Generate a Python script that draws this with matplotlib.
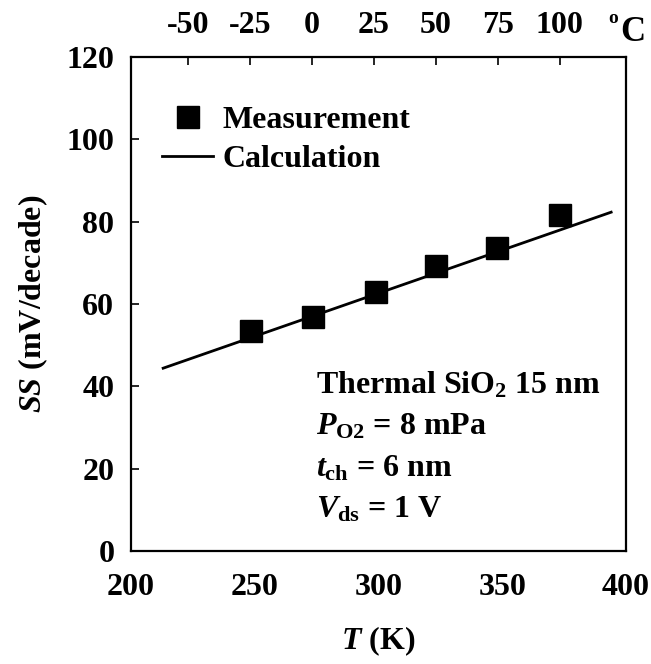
import numpy as np
import matplotlib
matplotlib.use("Agg")
import matplotlib.pyplot as plt

plt.rcParams['font.family'] = ['Liberation Serif', 'DejaVu Serif']
plt.rcParams['font.weight'] = 'bold'
plt.rcParams['mathtext.fontset'] = 'custom'
plt.rcParams['mathtext.rm'] = 'Liberation Serif:bold'
plt.rcParams['mathtext.bf'] = 'Liberation Serif:bold'
plt.rcParams['mathtext.it'] = 'Liberation Serif:bold:italic'

# measured subthreshold swing vs temperature
meas_T = [248.5, 273.7, 298.9, 323.4, 348.0, 373.3]
meas_SS = [53.4, 56.9, 62.9, 69.2, 73.6, 81.5]

# calculated line (end points)
calc_T = [213, 394]
calc_SS = [44.4, 82.3]

top_ticks_C = [-50, -25, 0, 25, 50, 75, 100]
y_ticks = [20, 40, 60, 80, 100]
x_ticks = [200, 250, 300, 350, 400]

fs = 23

fig = plt.figure(figsize=(6.51, 6.64), dpi=100)
ax = fig.add_axes([0.2012, 0.1702, 0.7604, 0.7440])

ax.plot(calc_T, calc_SS, color='black', lw=2.0, label='Calculation', zorder=2)
ax.plot(meas_T, meas_SS, 's', color='black', ms=16, label='Measurement', zorder=3)

ax.set_xlim(200, 400)
ax.set_ylim(0, 120)

ax.set_xticks(x_ticks)
ax.set_yticks(y_ticks)
ax.tick_params(axis='x', length=0, pad=16, labelsize=fs)
ax.tick_params(axis='y', direction='in', length=6, width=1.2, pad=12, labelsize=fs)
# 0 and 120 shown as labels only (no tick)
ax.set_yticks([0, 120], minor=True)
ax.set_yticklabels(['0', '120'], minor=True)
ax.tick_params(axis='y', which='minor', length=0, pad=12, labelsize=fs)

for s in ax.spines.values():
    s.set_linewidth(1.6)

top = ax.secondary_xaxis('top', functions=(lambda k: k - 273.15, lambda c: c + 273.15))
top.set_xticks(top_ticks_C)
top.set_xticklabels([str(c) for c in top_ticks_C])
top.tick_params(direction='in', length=6, width=1.2, pad=12, labelsize=fs)
top.spines['top'].set_visible(False)
fig.text(0.935, 0.985, 'o', fontsize=14, fontweight='bold', va='top', ha='left')
fig.text(0.953, 0.976, 'C', fontsize=fs + 2, fontweight='bold', va='top', ha='left')

ax.set_xlabel('$T$ (K)', fontsize=fs, fontweight='bold', labelpad=16)
ax.set_ylabel('$SS$ (mV/decade)', fontsize=fs, fontweight='bold', labelpad=12)

handles, labels = ax.get_legend_handles_labels()
ax.legend(handles[::-1], labels[::-1], loc='upper left', bbox_to_anchor=(0.024, 0.94),
          frameon=False, fontsize=fs, handlelength=1.6, handletextpad=0.3,
          labelspacing=0.3, borderaxespad=0.2)

info = ['Thermal SiO$_{\\mathrm{2}}$ 15 nm',
        '$P_{\\mathrm{O2}}$ = 8 mPa',
        '$t_{\\mathrm{ch}}$ = 6 nm',
        '$V_{\\mathrm{ds}}$ = 1 V']
for i, t in enumerate(info):
    ax.text(0.374, 0.335 - i * 0.084, t, transform=ax.transAxes, fontsize=fs,
            fontweight='bold', va='center', ha='left')

fig.savefig('out.png', dpi=100)
